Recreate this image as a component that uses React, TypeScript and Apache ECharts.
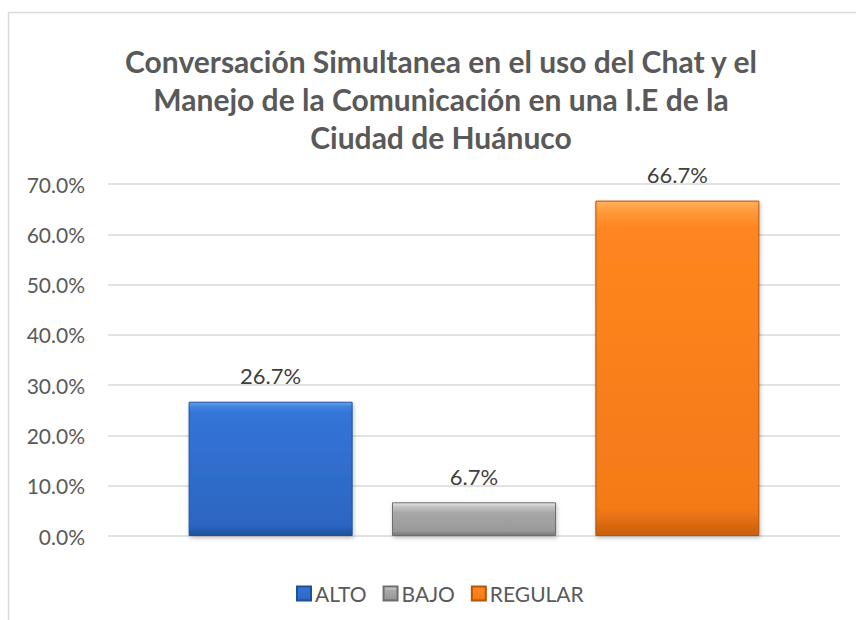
import React, { useEffect, useRef } from "react";
import * as echarts from "echarts";

const titleLines = [
  "Conversación Simultanea en el uso del Chat y el",
  "Manejo de la Comunicación en una I.E de la",
  "Ciudad de Huánuco",
];
const seriesNames = ["ALTO", "BAJO", "REGULAR"];
const seriesValues = [26.7, 6.7, 66.7];
const yTicks = { min: 0, max: 70, interval: 10 };

const grad = (stops: [number, string][]) =>
  new echarts.graphic.LinearGradient(0, 0, 0, 1, stops.map(([offset, color]) => ({ offset, color })));

const fills = [
  grad([[0, "#6aa6f2"], [0.03, "#4185e0"], [0.08, "#3474d8"], [0.92, "#2c66c2"], [1, "#1f4f9e"]]),
  grad([[0, "#e6e6e6"], [0.12, "#c4c4c4"], [0.3, "#a8a8a8"], [0.85, "#999999"], [1, "#777777"]]),
  grad([[0, "#ffb061"], [0.03, "#ff9a3a"], [0.08, "#ff8520"], [0.92, "#f47a18"], [1, "#c85e0c"]]),
];
const borders = ["#1f4f9e", "#6e6e6e", "#b35508"];

export default function App() {
  const ref = useRef<HTMLDivElement>(null);
  useEffect(() => {
    if (!ref.current) return;
    const chart = echarts.init(ref.current, undefined, { renderer: "svg" });
    const font = "Lato, 'Open Sans', sans-serif";
    chart.setOption({
      animation: false,
      backgroundColor: "#ffffff",
      textStyle: { fontFamily: font },
      graphic: [
        {
          type: "rect",
          shape: { x: 8.5, y: 12.5, width: 900, height: 700 },
          style: { fill: "none", stroke: "#d9d9d9", lineWidth: 1.5 },
          silent: true,
        },
      ],
      title: {
        text: titleLines.join("\n"),
        left: 436,
        top: 37,
        textAlign: "center",
        textStyle: {
          fontFamily: font,
          fontSize: 30,
          fontWeight: "bold",
          color: "#595959",
          lineHeight: 38,
        },
      },
      legend: {
        top: 578,
        left: 291,
        itemWidth: 14,
        itemHeight: 14,
        itemGap: 16,
        icon: "rect",
        textStyle: { fontFamily: font, fontSize: 21, color: "#595959", padding: [0, 0, 0, -1] },
        data: seriesNames,
      },
      grid: { left: 108, right: 16, top: 184, bottom: 84, containLabel: false },
      xAxis: {
        type: "category",
        data: [""],
        axisLine: { show: false },
        axisTick: { show: false },
        axisLabel: { show: false },
      },
      yAxis: {
        type: "value",
        min: yTicks.min,
        max: yTicks.max,
        interval: yTicks.interval,
        axisLine: { show: false },
        axisTick: { show: false },
        axisLabel: {
          formatter: (v: number) => v.toFixed(1) + "%",
          fontFamily: font,
          fontSize: 21,
          color: "#595959",
          margin: 23,
        },
        splitLine: { lineStyle: { color: "#d9d9d9", width: 1.5 } },
      },
      series: seriesNames.map((name, i) => ({
        name,
        type: "bar",
        data: [seriesValues[i]],
        barWidth: 164,
        barGap: "24%",
        itemStyle: {
          color: fills[i],
          borderColor: borders[i],
          borderWidth: 1,
          shadowColor: "rgba(0,0,0,0.25)",
          shadowBlur: 4,
          shadowOffsetX: 1,
          shadowOffsetY: 2,
        },
        label: {
          show: true,
          position: "top",
          distance: 15,
          formatter: (p: any) => p.value.toFixed(1) + "%",
          fontFamily: font,
          fontSize: 22,
          color: "#404040",
        },
      })),
    });
    return () => chart.dispose();
  }, []);
  return (
    <div
      ref={ref}
      style={{ position: "absolute", left: 0, top: 0, width: 856, height: 620 }}
    />
  );
}
